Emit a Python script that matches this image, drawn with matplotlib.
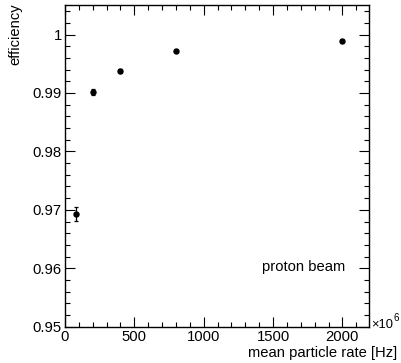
import matplotlib
matplotlib.use("Agg")
import matplotlib.pyplot as plt
from matplotlib.ticker import MultipleLocator, FixedLocator

# data
rate = [80, 200, 400, 800, 2000]          # x10^6 Hz
eff = [0.9693, 0.9902, 0.9938, 0.9972, 0.9989]
eff_err = [0.00123, 0.0005, 0.0003, 0.0001, 0.0001]

x_ticks = [0, 500, 1000, 1500, 2000]
y_ticks = [0.95, 0.96, 0.97, 0.98, 0.99, 1.0]
y_tick_labels = ["0.95", "0.96", "0.97", "0.98", "0.99", "1"]

plt.rcParams['font.family'] = ['Liberation Sans', 'DejaVu Sans']

W, H = 401, 363
fig = plt.figure(figsize=(W / 100, H / 100), dpi=100)
L, R, B, T = 65, 369, 326.7, 5.3
ax = fig.add_axes([L / W, 1 - B / H, (R - L) / W, (B - T) / H])

ax.errorbar(rate, eff, yerr=eff_err, fmt='o', color='black', ms=3.6,
            elinewidth=0.9, capsize=1.3, capthick=0.9)

ax.set_xlim(0, 2192)
ax.set_ylim(0.95, 1.005)

ax.xaxis.set_major_locator(FixedLocator(x_ticks))
ax.xaxis.set_minor_locator(MultipleLocator(100))
ax.yaxis.set_major_locator(FixedLocator(y_ticks))
ax.yaxis.set_minor_locator(MultipleLocator(0.002))
ax.set_yticklabels(y_tick_labels)
ax.set_xticklabels([str(v) for v in x_ticks])

for s in ax.spines.values():
    s.set_linewidth(1.0)
ax.tick_params(which='both', direction='in', top=True, right=True,
               labelsize=10.7, width=0.8, colors='black')
ax.tick_params(which='major', length=7.5)
ax.tick_params(which='minor', length=3.8)
ax.tick_params(axis='x', pad=2.6)
ax.tick_params(axis='y', pad=2.4)

fs = 10.6
fig.text(397 / W, 1 - 356.5 / H, "mean particle rate [Hz]", ha='right', va='baseline',
         fontsize=fs)
fig.text(15 / W, 1 - 3 / H, "efficiency", rotation=90, ha='center', va='top',
         fontsize=fs)
ax.text(0.647, 0.1725, "proton beam", transform=ax.transAxes, ha='left',
        va='baseline', fontsize=fs)

fig.text(371 / W, 1 - 328.3 / H, "\u00d710", ha='left', va='baseline', fontsize=9.3)
fig.text(393 / W, 1 - 321 / H, "6", ha='left', va='baseline', fontsize=7)

fig.savefig("out.png", dpi=100)
